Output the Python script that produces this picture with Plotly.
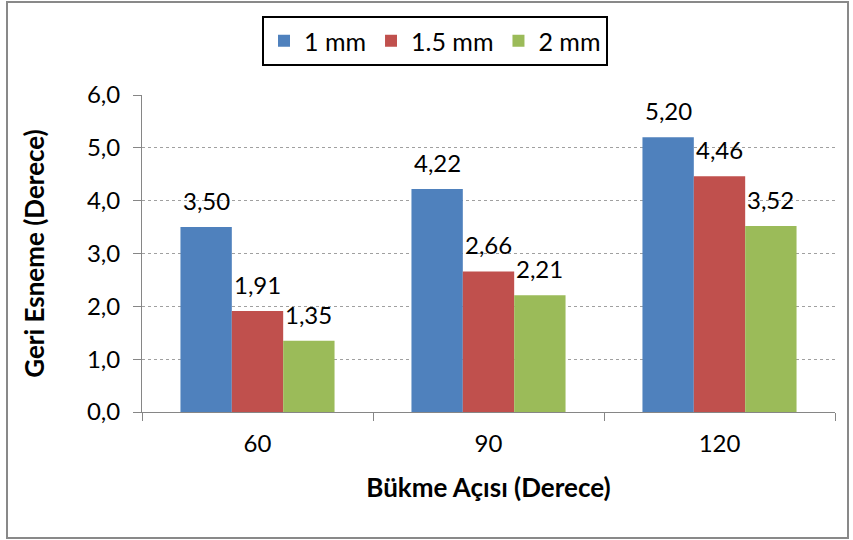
import plotly.graph_objects as go

# Bending angle categories and springback values per sheet thickness
angles = ["60", "90", "120"]
series_names = ["1 mm", "1.5 mm", "2 mm"]
springback_1mm = [3.50, 4.22, 5.20]
springback_15mm = [1.91, 2.66, 4.46]
springback_2mm = [1.35, 2.21, 3.52]
colors = ["#4F81BD", "#C0504D", "#9BBB59"]

FONT = "Lato"
W, H = 853, 540
L, R, T, B = 142, 18, 95, 128
pw, ph = W - L - R, H - T - B
BARGAP = 0.333
bar_px = pw / len(angles) * (1 - BARGAP) / len(series_names)

fig = go.Figure()
all_series = [springback_1mm, springback_15mm, springback_2mm]
for name, vals, col in zip(series_names, all_series, colors):
    fig.add_trace(go.Bar(
        x=angles, y=vals, name=name,
        marker=dict(color=col, line=dict(width=0)),
    ))

# value labels above each bar, decimal comma
# (category axes place annotations by category index)
for i, vals in enumerate(all_series):
    for j, v in enumerate(vals):
        fig.add_annotation(
            x=j, y=v, xref="x", yref="y",
            text=f"{v:.2f}".replace(".", ","),
            showarrow=False, yanchor="bottom",
            xshift=(i - 1) * bar_px, yshift=10,
            font=dict(family=FONT, size=24, color="black"),
        )


# outer chart frame, expressed in paper coordinates of the plot area
def px(x):
    return (x - L) / pw


def py(y):
    return (H - B - y) / ph


fig.add_shape(type="rect", xref="paper", yref="paper",
              x0=px(7), x1=px(848), y0=py(2), y1=py(538),
              line=dict(color="#898989", width=2), fillcolor="rgba(0,0,0,0)",
              layer="below")

fig.update_layout(
    width=W, height=H,
    margin=dict(l=L, r=R, t=T, b=B, autoexpand=False),
    paper_bgcolor="white", plot_bgcolor="white",
    separators=",.",
    barmode="group", bargap=BARGAP, bargroupgap=0,
    font=dict(family=FONT, size=24, color="black"),
    legend=dict(
        orientation="h", x=px(435), xanchor="center", y=py(16), yanchor="top",
        bordercolor="black", borderwidth=2, bgcolor="white",
        font=dict(family=FONT, size=25, color="black"),
        itemwidth=30,
    ),
    xaxis=dict(
        type="category",
        showline=True, linecolor="#868686", linewidth=1,
        ticks="outside", tickson="boundaries", ticklen=8, tickcolor="#868686",
        ticklabelstandoff=10,
        tickfont=dict(family=FONT, size=24),
        title=dict(text="<b>Bükme Açısı (Derece)</b>",
                   font=dict(family=FONT, size=26), standoff=23),
    ),
    yaxis=dict(
        range=[0, 6], dtick=1, tickformat=".1f",
        showline=True, linecolor="#868686", linewidth=1,
        ticks="outside", ticklen=8, tickcolor="#868686",
        ticklabelstandoff=8,
        showgrid=True, gridcolor="#A0A0A0", griddash="dot", gridwidth=1,
        zeroline=False,
        tickfont=dict(family=FONT, size=24),
        title=dict(text="<b>Geri Esneme (Derece)</b>",
                   font=dict(family=FONT, size=26), standoff=34),
    ),
)

fig.write_html("out.html")
